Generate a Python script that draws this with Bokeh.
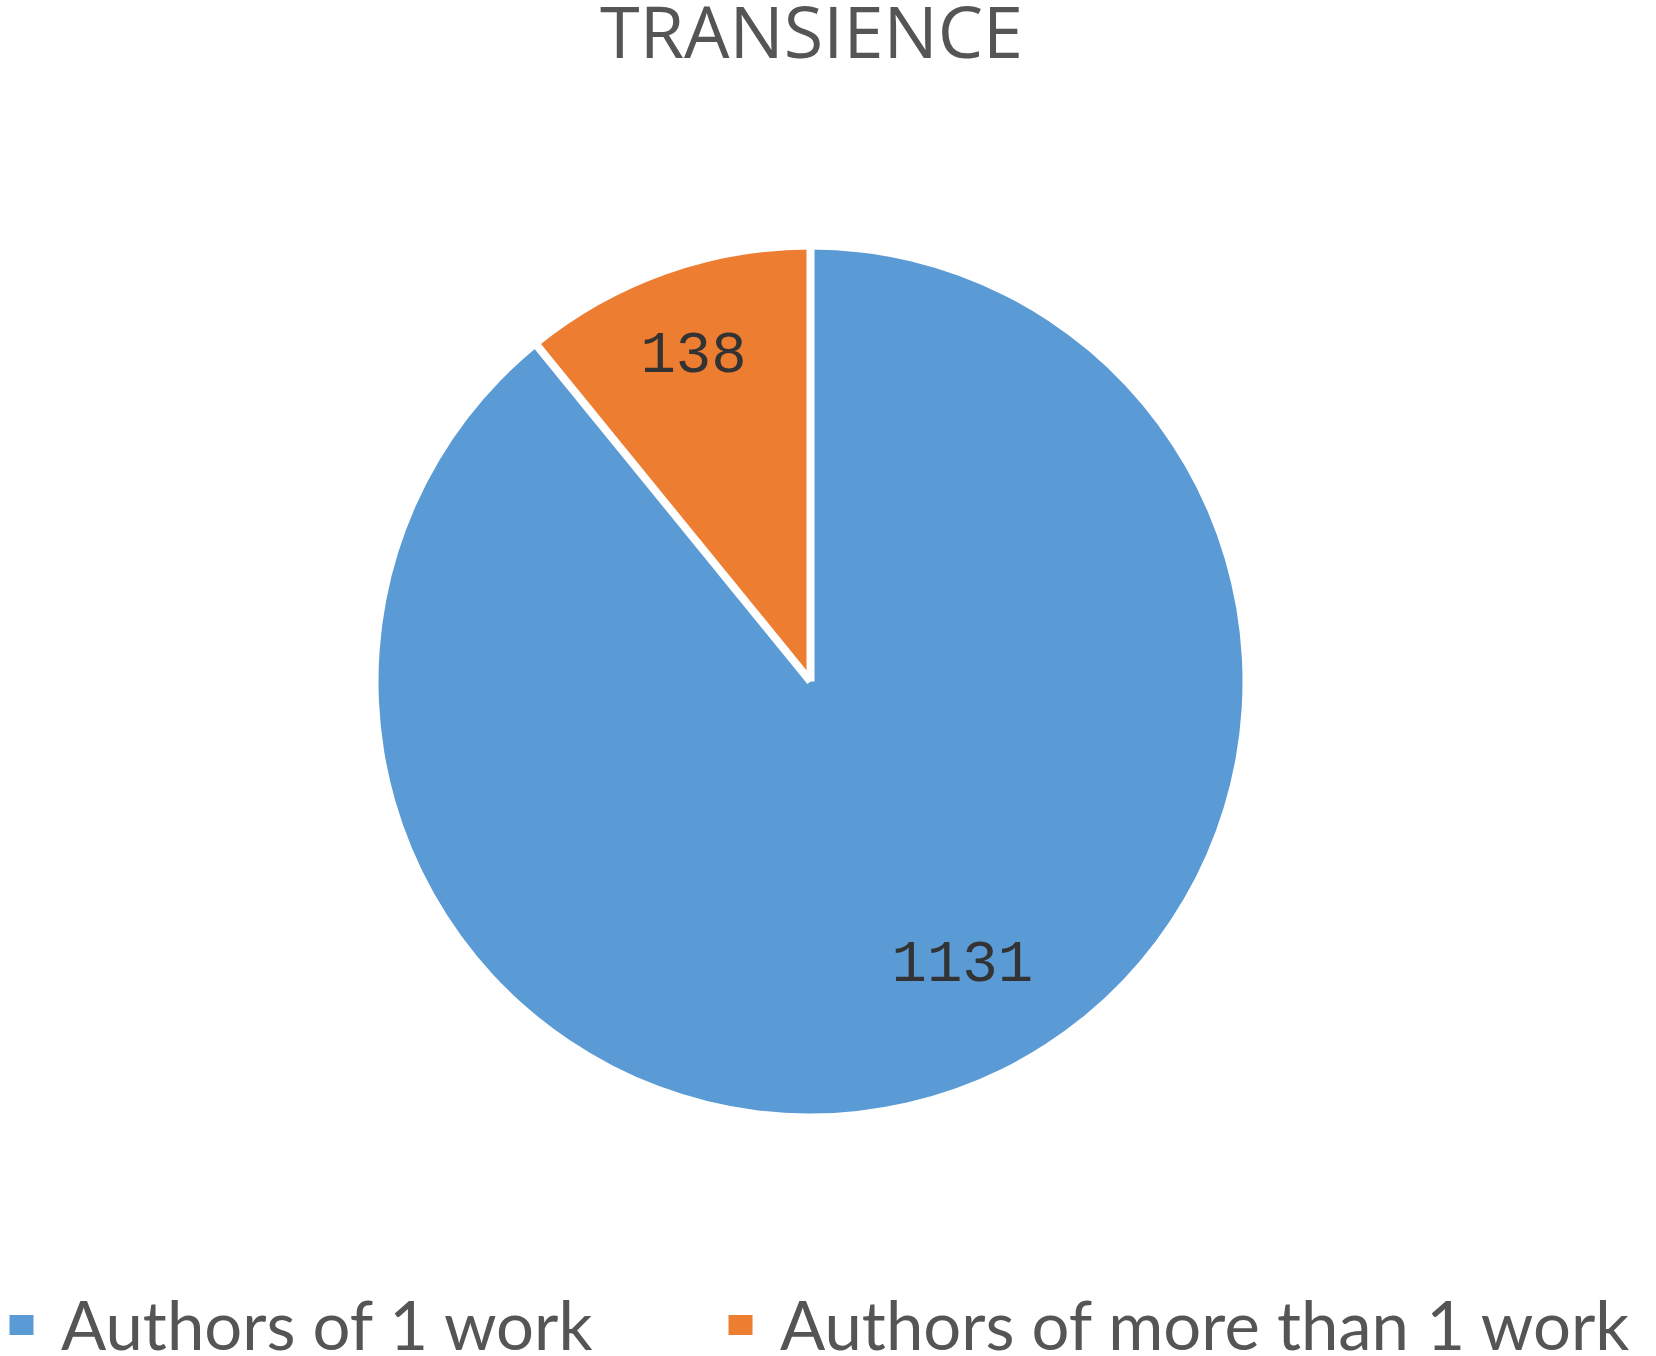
import math
from bokeh.plotting import figure
from bokeh.models import Range1d, Legend, LegendItem
from bokeh.core.properties import value
from bokeh.embed import file_html
from bokeh.resources import INLINE

# ---- data ----
title_text = "TRANSIENCE"
categories = ["Authors of 1 work", "Authors of more than 1 work"]
counts = [1131, 138]
colors = ["#5B9BD5", "#ED7D31"]

# ---- layout / style ----
W, H = 1656, 1356
CX, CY, R = 810, 675, 432
label_r_frac = [0.737, 0.808]
label_nudge_deg = [8.9, 0.0]

p = figure(width=W, height=H, x_range=Range1d(0, W), y_range=Range1d(0, H),
           output_backend="svg", toolbar_location=None, min_border=0,
           x_axis_location=None, y_axis_location=None)
p.grid.visible = False
p.outline_line_color = None
p.background_fill_color = "white"
p.border_fill_color = "white"

total = float(sum(counts))
cum = 0.0
starts, ends, mids = [], [], []
for c in counts:
    a_end = math.pi / 2 - 2 * math.pi * cum / total
    cum += c
    a_start = math.pi / 2 - 2 * math.pi * cum / total
    starts.append(a_start)
    ends.append(a_end)
    mids.append((a_start + a_end) / 2)

renderers = []
for i in range(len(counts)):
    r = p.wedge(x=CX, y=CY, radius=R, start_angle=starts[i], end_angle=ends[i],
                fill_color=colors[i], line_color=None)
    renderers.append(r)

# white separators along slice boundaries
bx0, by0, bx1, by1 = [], [], [], []
for a in ends:
    bx0.append(CX); by0.append(CY)
    bx1.append(CX + (R + 4) * math.cos(a)); by1.append(CY + (R + 4) * math.sin(a))
p.segment(x0=bx0, y0=by0, x1=bx1, y1=by1, line_color="white", line_width=8,
          line_cap="butt")

# data labels
lx, ly = [], []
for i, m in enumerate(mids):
    a = m + math.radians(label_nudge_deg[i])
    lx.append(CX + label_r_frac[i] * R * math.cos(a))
    ly.append(CY + label_r_frac[i] * R * math.sin(a))
p.text(x=lx, y=ly, text=[str(c) for c in counts], text_align="center",
       text_baseline="middle", text_font=value("Liberation Mono"),
       text_font_size="59px", text_color="#333333")

# title
p.text(x=[811], y=[H - 29], text=[title_text], text_align="center",
       text_baseline="middle", text_font=value("Open Sans"),
       text_font_size="72px", text_color="#555555")

# legends
leg_x = [6, 725]
for i in range(len(categories)):
    lg = Legend(items=[LegendItem(label=categories[i], renderers=[renderers[i]])],
                location=(leg_x[i], -8), orientation="horizontal",
                glyph_width=30, glyph_height=25, label_standoff=25,
                label_text_font="Lato",
                label_text_font_size="67px", label_text_color="#555555",
                padding=0, margin=0, spacing=0,
                border_line_color=None, background_fill_alpha=0)
    p.add_layout(lg, "center")

open("out.html", "w").write(file_html(p, INLINE))
